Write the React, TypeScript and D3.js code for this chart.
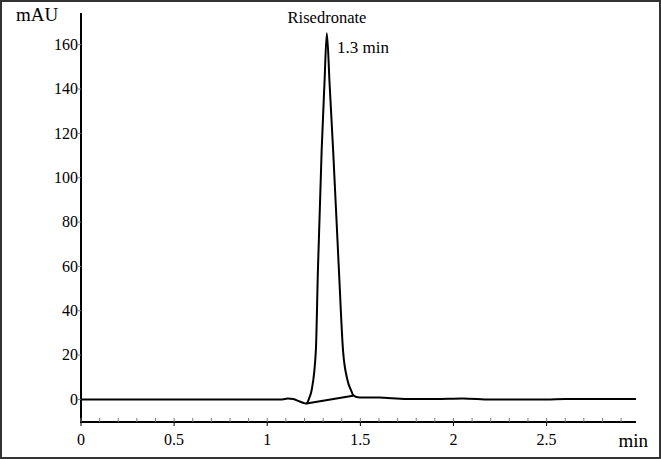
import { useEffect, useRef } from "react";
import * as d3 from "d3";

// chromatogram trace (min, mAU)
const times = [0, 0.5, 1.0, 1.08, 1.11, 1.14, 1.17, 1.195, 1.211, 1.225, 1.238, 1.261, 1.272, 1.292, 1.307, 1.32, 1.335, 1.354, 1.385, 1.407, 1.43, 1.453, 1.46, 1.475, 1.498, 1.6, 1.75, 1.9, 2.05, 2.2, 2.5, 2.6, 2.98];
const signal = [0, 0, 0, 0, 0.4, 0.2, -0.8, -1.6, -1.9, 0.5, 4, 22, 58, 112, 142, 165.2, 142, 112, 58, 22, 9, 3.5, 2, 1.2, 0.9, 0.8, 0.2, 0.2, 0.4, -0.1, -0.1, 0.2, 0.2];

// integration baseline drawn under the peak
const baseTimes = [1.211, 1.46];
const baseValues = [-1.9, 1.6];

const yTicks = [0, 20, 40, 60, 80, 100, 120, 140, 160];
const xTicks = [0, 0.5, 1, 1.5, 2, 2.5];
const peakName = "Risedronate";
const peakTime = "1.3 min";

export default function App() {
  const ref = useRef<SVGSVGElement>(null);

  useEffect(() => {
    const svg = d3.select(ref.current);
    svg.selectAll("*").remove();

    const width = 661;
    const height = 459;
    const font = "'Liberation Serif', 'Times New Roman', serif";

    svg.attr("width", width).attr("height", height);

    svg.append("rect")
      .attr("x", 1).attr("y", 1)
      .attr("width", width - 2).attr("height", height - 2)
      .attr("fill", "#fff")
      .attr("stroke", "#333")
      .attr("stroke-width", 2);

    const x = d3.scaleLinear().domain([0, 2.98]).range([81, 636]);
    const y = d3.scaleLinear().domain([-10.2, 174.3]).range([422, 13]);

    // axes lines
    svg.append("line")
      .attr("x1", 81).attr("x2", 81)
      .attr("y1", y.range()[1]).attr("y2", y.range()[0] + 1)
      .attr("stroke", "#000").attr("stroke-width", 2);
    svg.append("line")
      .attr("x1", 80).attr("x2", x.range()[1])
      .attr("y1", 422).attr("y2", 422)
      .attr("stroke", "#000").attr("stroke-width", 2);

    // minor x ticks (inside) and major x ticks (outside)
    const minor = d3.range(0, 30).map(i => i / 10);
    svg.append("g")
      .selectAll("line")
      .data(minor)
      .join("line")
      .attr("x1", d => x(d)).attr("x2", d => x(d))
      .attr("y1", 418).attr("y2", 422)
      .attr("stroke", "#777").attr("stroke-width", 1);
    svg.append("g")
      .selectAll("line")
      .data(xTicks)
      .join("line")
      .attr("x1", d => x(d)).attr("x2", d => x(d))
      .attr("y1", 422).attr("y2", 426)
      .attr("stroke", "#000").attr("stroke-width", 1);

    svg.append("g")
      .selectAll("text")
      .data(xTicks)
      .join("text")
      .attr("x", d => x(d))
      .attr("y", 445)
      .attr("text-anchor", "middle")
      .attr("font-family", font)
      .attr("font-size", 16)
      .text(d => String(d));

    svg.append("g")
      .selectAll("line")
      .data(yTicks)
      .join("line")
      .attr("x1", 78).attr("x2", 81)
      .attr("y1", d => y(d)).attr("y2", d => y(d))
      .attr("stroke", "#777").attr("stroke-width", 1);

    svg.append("g")
      .selectAll("text")
      .data(yTicks)
      .join("text")
      .attr("x", 78)
      .attr("y", d => y(d))
      .attr("dy", "0.34em")
      .attr("text-anchor", "end")
      .attr("font-family", font)
      .attr("font-size", 16)
      .text(d => String(d));

    svg.append("text")
      .attr("x", 16).attr("y", 21)
      .attr("font-family", font)
      .attr("font-size", 19)
      .text("mAU");

    svg.append("text")
      .attr("x", 648).attr("y", 447)
      .attr("text-anchor", "end")
      .attr("font-family", font)
      .attr("font-size", 19)
      .text("min");

    const line = d3.line<number>()
      .x((_, i) => x(times[i]))
      .y(d => y(d))
      .curve(d3.curveMonotoneX);

    svg.append("path")
      .datum(signal)
      .attr("d", line)
      .attr("fill", "none")
      .attr("stroke", "#000")
      .attr("stroke-width", 2)
      .attr("stroke-linejoin", "round");

    const baseLine = d3.line<number>()
      .x((_, i) => x(baseTimes[i]))
      .y(d => y(d));

    svg.append("path")
      .datum(baseValues)
      .attr("d", baseLine)
      .attr("fill", "none")
      .attr("stroke", "#000")
      .attr("stroke-width", 2);

    svg.append("text")
      .attr("x", 327).attr("y", 23)
      .attr("text-anchor", "middle")
      .attr("font-family", font)
      .attr("font-size", 16.5)
      .text(peakName);

    svg.append("text")
      .attr("x", 337).attr("y", 53)
      .attr("font-family", font)
      .attr("font-size", 17)
      .text(peakTime);
  }, []);

  return <svg ref={ref} style={{ position: "absolute", left: 0, top: 0 }}></svg>;
}
